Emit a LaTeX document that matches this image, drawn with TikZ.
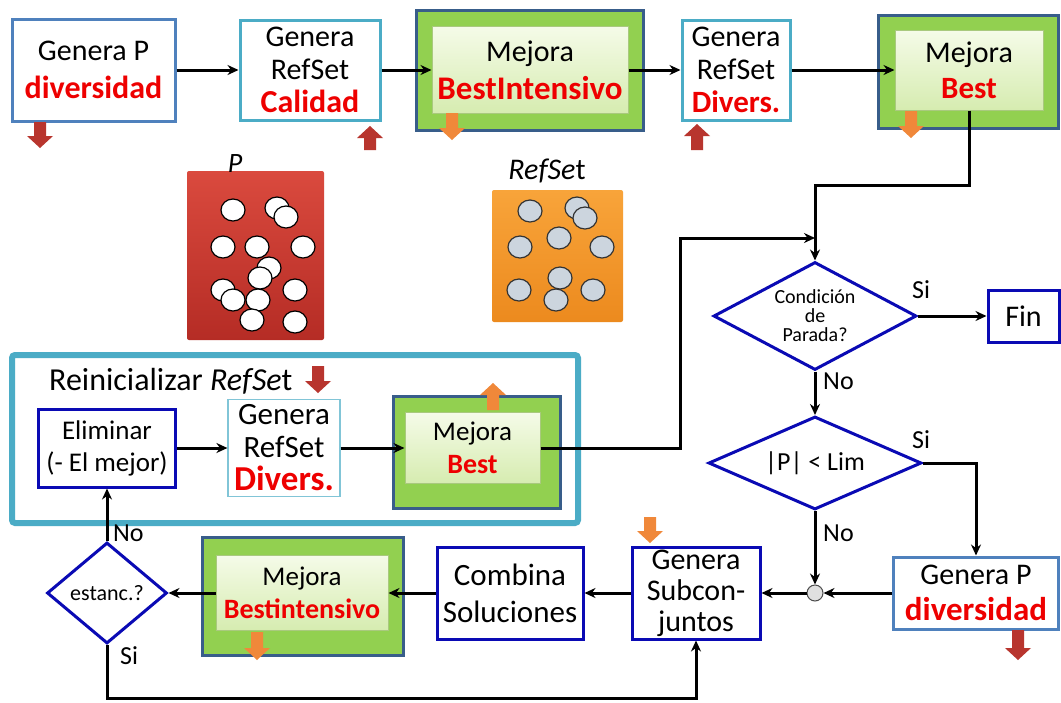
\documentclass[tikz,border=0pt]{standalone}
\usepackage{fontspec}
\setmainfont{Carlito}
\usetikzlibrary{arrows.meta,shapes.geometric}
\definecolor{bluebd}{HTML}{4F81BD}
\definecolor{tealbd}{HTML}{4BACC6}
\definecolor{navybd}{HTML}{385D8A}
\definecolor{greenf}{HTML}{92D050}
\definecolor{ltgA}{HTML}{F5FBE8}
\definecolor{ltgB}{HTML}{D6ECB0}
\definecolor{ltgbd}{HTML}{A9C97E}
\definecolor{deepblue}{HTML}{0A0AB4}
\definecolor{redtxt}{HTML}{EE0000}
\definecolor{darkred}{HTML}{B8352E}
\definecolor{orarr}{HTML}{F0883A}
\definecolor{predA}{HTML}{DA4A3E}
\definecolor{predB}{HTML}{B52C25}
\definecolor{orA}{HTML}{F8A43A}
\definecolor{orB}{HTML}{EC8A1E}
\definecolor{cgray}{HTML}{CCD5DE}
\newcommand\fs[2]{\fontsize{#1}{#2}\selectfont}
\newcommand\rb[2][]{\textcolor{redtxt}{\ifx&#1&\else\fs{#1}{#1}\fi\bfseries #2}}
% block arrows: colour, x, y of top, y of bottom
\newcommand\BlkDown[4]{\fill[#1] (#2-6,#3) -- (#2+6,#3) -- (#2+6,#4-12) -- (#2+13,#4-12) -- (#2,#4) -- (#2-13,#4-12) -- (#2-6,#4-12) -- cycle;}
\newcommand\BlkUp[4]{\fill[#1] (#2-6,#4) -- (#2+6,#4) -- (#2+6,#3+12) -- (#2+13,#3+12) -- (#2,#3) -- (#2-13,#3+12) -- (#2-6,#3+12) -- cycle;}
\tikzset{
 base/.style={inner sep=0pt, align=center, font=\fs{30}{33}},
 bbox/.style={base, draw=bluebd, line width=3pt, fill=white},
 tbox/.style={base, draw=tealbd, line width=3pt, fill=white},
 dbox/.style={base, draw=deepblue, line width=3pt, fill=white},
 gout/.style={draw=navybd, line width=3pt, fill=greenf, inner sep=0pt},
 gin/.style={base, draw=ltgbd, line width=1pt, top color=ltgA, bottom color=ltgB},
 dia/.style={diamond, draw=deepblue, line width=3pt, fill=white, inner sep=0pt, align=center},
 conn/.style={line width=3pt, -{Stealth[length=11pt,width=10pt]}},
 lab/.style={font=\fs{26}{26}, anchor=west, inner sep=0pt},
 pcirc/.style={draw=black, line width=1.2pt, fill=white},
 rcirc/.style={draw=black!80, line width=1.2pt, fill=cgray},
}
\begin{document}
\begin{tikzpicture}[x=1pt,y=-1pt]
\fill[white] (0,0) rectangle (1061,702);
\useasboundingbox (0,0) rectangle (1061,702);

% ---------- top row ----------
\node[bbox, minimum width=163pt, minimum height=102pt] (b1) at (93.5,70) {Genera P\\[5pt]\rb[32]{diversidad}};
\node[tbox, minimum width=140pt, minimum height=100pt] (b2) at (310,70) {Genera\\RefSet\\\rb[32]{Calidad}};
\node[gout, minimum width=227pt, minimum height=120pt] (b3o) at (529.5,70) {};
\node[gin, minimum width=196pt, minimum height=87pt] (b3) at (530,70) {Mejora\\[5pt]\rb[33]{BestIntensivo}};
\node[tbox, minimum width=108pt, minimum height=100pt] (b4) at (736,70) {Genera\\RefSet\\\rb[31]{Divers.}};
\node[gout, minimum width=180pt, minimum height=113pt] (b5o) at (968,71.5) {};
\node[gin, minimum width=148pt, minimum height=80pt] (b5) at (969,70) {Mejora\\[3pt]\rb[31]{Best}};

\draw[conn] (b1) -- (b2);
\draw[conn] (b2) -- (b3);
\draw[conn] (b3) -- (b4);
\draw[conn] (b4) -- (b5);

% ---------- P and RefSet sets ----------
\node[top color=predA, bottom color=predB, minimum width=137pt, minimum height=169pt, rounded corners=2pt, inner sep=0pt] (pbox) at (255.5,255.5) {};
\node[font=\fs{28}{28}\itshape, inner sep=0pt] (plab) at (235,164) {P};
\foreach \cx/\cy in {233/210, 277/208, 286/217, 223/247, 257/247, 303/247, 269/268, 260/278, 223/290, 233/300, 258/300, 295/290, 252/320, 295/322}
  \draw[pcirc] (\cx,\cy) ellipse [x radius=12, y radius=11];

\node[top color=orA, bottom color=orB, minimum width=131pt, minimum height=132pt, rounded corners=2pt, inner sep=0pt] (rbox) at (557.5,256) {};
\node[font=\fs{30}{30}, inner sep=0pt] (rlab) at (547,171) {\textit{RefSe}t};
\foreach \cx/\cy in {530/211, 577/208, 585/218, 520/247, 559/238, 602/247, 560/278, 519/290, 556/300, 593/290}
  \draw[rcirc] (\cx,\cy) ellipse [x radius=12, y radius=11];

% ---------- Reinicializar ----------
\node[draw=tealbd, line width=6pt, rounded corners=3pt, minimum width=566pt, minimum height=168pt, inner sep=0pt] (reinit) at (295,439) {};
\node[anchor=west, font=\fs{32}{32}, inner sep=0pt] (rtit) at (49,381) {Reinicializar \textit{RefSe}t};
\node[dbox, minimum width=137pt, minimum height=78pt, font=\fs{27}{32}] (elim) at (107,448) {Eliminar\\(- El mejor)};
\node[base, draw=tealbd!70, line width=1.2pt, fill=white, minimum width=112pt, minimum height=97pt, font=\fs{31}{33}] (rg) at (284,448) {Genera\\RefSet\\\rb[35]{Divers.}};
\node[gout, minimum width=167pt, minimum height=112pt] (rmo) at (476.5,452) {};
\node[gin, minimum width=135pt, minimum height=71pt, font=\fs{27}{30}] (rm) at (472.5,448) {Mejora\\[3pt]\rb[28]{Best}};
\draw[conn] (elim) -- (rg);
\draw[conn] (rg) -- (rm);

% ---------- decision column ----------
\node[dia, aspect=1.9, minimum width=203pt, minimum height=108pt, font=\fs{20}{19}] (d1) at (815,316) {Condición\\de\\Parada?};
\node[dbox, minimum width=71pt, minimum height=52pt] (fin) at (1023.5,316) {Fin};
\node[dia, aspect=2.3, minimum width=213pt, minimum height=93pt, font=\fs{26}{26}] (d2) at (815,463) {|P| < Lim};
\node[circle, draw=black!70, fill=black!12, line width=1pt, minimum size=16pt, inner sep=0pt] (cj) at (815,593) {};
\node[bbox, minimum width=165pt, minimum height=72pt] (gp2) at (976,593) {Genera P\\[3pt]\rb[33]{diversidad}};

\coordinate (j1) at (815,185);
\coordinate (k1) at (680,238);
\coordinate (j2) at (815,238);
\draw[conn] (b5.south) |- (j1) -- (d1.north);
\draw[conn] (rm.east) -| (k1) -- (j2);
\draw[conn] (d1) -- (fin);
\node[lab] (si1) at (912,290) {Si};
\draw[conn] (d1) -- (d2);
\node[lab] (no1) at (823,381) {No};
\draw[conn] (d2.east) -| (gp2.north);
\node[lab] (si2) at (912,440) {Si};
\draw[conn] (d2) -- (cj);
\node[lab] (no2) at (823,533) {No};
\draw[conn] (gp2) -- (cj);

% ---------- bottom row ----------
\node[dbox, minimum width=128pt, minimum height=92pt, font=\fs{30}{31}] (sub) at (696,593) {Genera\\Subcon-\\juntos};
\node[dbox, minimum width=146pt, minimum height=92pt, font=\fs{31}{37}] (comb) at (510,593) {Combina\\Soluciones};
\node[gout, minimum width=201pt, minimum height=118pt] (bmo) at (302.5,596) {};
\node[gin, minimum width=172pt, minimum height=75pt, font=\fs{27}{30}] (bm) at (302,593) {Mejora\\[3pt]\rb[28]{Bestintensivo}};
\node[dia, aspect=1.2, minimum width=120pt, minimum height=101pt, font=\fs{22}{22}] (d3) at (107,593) {estanc.?};

\draw[conn] (cj) -- (sub);
\draw[conn] (sub) -- (comb);
\draw[conn] (comb) -- (bm);
\draw[conn] (bm) -- (d3);
\draw[conn] (d3) -- (elim);
\node[lab] (no3) at (113,533) {No};
\coordinate (bot) at (0,698);
\draw[conn] (d3.south) -- (d3.south |- bot) -| (sub.south);
\node[lab] (si3) at (120,656) {Si};

% ---------- block arrows ----------
\BlkDown{darkred}{40}{122}{148}
\BlkUp{darkred}{370}{126}{150}
\BlkDown{orarr}{452}{113}{140}
\BlkUp{darkred}{697}{124}{150}
\BlkDown{orarr}{911}{111}{138}
\BlkDown{darkred}{318}{366}{393}
\BlkUp{orarr}{493}{383}{410}
\BlkDown{orarr}{650}{517}{543}
\BlkDown{orarr}{257}{632}{660}
\BlkDown{darkred}{1018}{630}{660}
\end{tikzpicture}
\end{document}
